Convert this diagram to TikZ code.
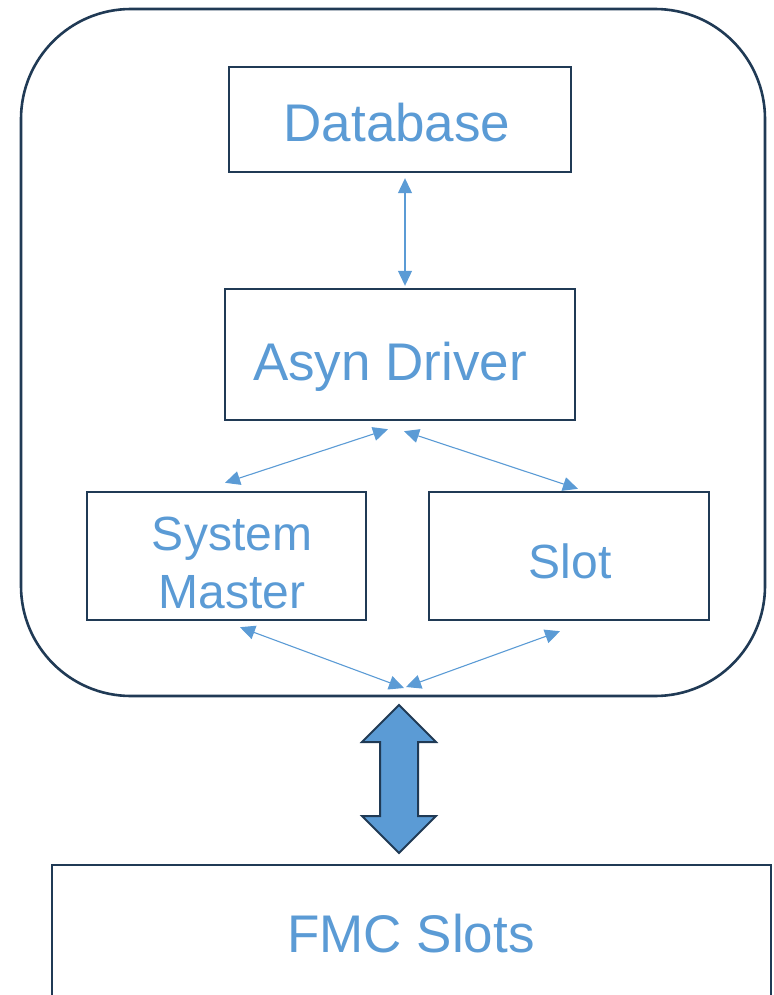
\documentclass[tikz,border=0pt]{standalone}
\usepackage{fontspec}
\setmainfont{Liberation Sans}
\usetikzlibrary{arrows.meta,calc}
\definecolor{frame}{HTML}{203A55}
\definecolor{txt}{HTML}{5B9BD5}
\begin{document}
\begin{tikzpicture}[x=1pt,y=-1pt,
  box/.style={draw=frame,line width=2.4pt,rectangle,inner sep=0pt},
  lbl/.style={text=txt,anchor=base,inner sep=0pt},
  big/.style={font=\fontsize{53}{58}\selectfont},
  small/.style={font=\fontsize{48}{58}\selectfont},
  link/.style={draw=txt,line width=1.1pt,{Triangle[length=15pt,width=14pt]}-{Triangle[length=15pt,width=14pt]}}]
\useasboundingbox (0,0) rectangle (773,995);
% outer rounded frame
\draw[frame,line width=2.6pt,rounded corners=110pt] (21,9) rectangle (765,696);
% boxes
\node[box,minimum width=342pt,minimum height=105pt] (db) at (400,119.5) {};
\node[box,minimum width=350pt,minimum height=131pt] (asyn) at (400,354.5) {};
\node[box,minimum width=279pt,minimum height=128pt] (sm) at (226.5,556) {};
\node[box,minimum width=280pt,minimum height=128pt] (slot) at (569,556) {};
\node[box,minimum width=719pt,minimum height=160pt] (fmc) at (411.5,945) {};
% texts
\node[lbl,big] (tdb) at (397,142) {Database};
\node[lbl,big] (tasyn) at (390,380) {Asyn Driver};
\node[lbl,small] (tsys) at (232,550) {System};
\node[lbl,small] (tmas) at (232,608) {Master};
\node[lbl,small] (tslot) at (570,578) {Slot};
\node[lbl,big] (tfmc) at (411,952) {FMC Slots};
% connectors
\coordinate (hub) at (405,688);
\draw[link] ($(db.south)+(5,5)$) -- ($(asyn.north)+(5,-2)$);
\draw[link] ($(asyn.south)+(-12,8)$) -- ($(sm.north)+(-1.5,-8)$);
\draw[link] ($(asyn.south)+(4,10)$) -- ($(slot.north)+(9,-2)$);
\draw[link] ($(sm.south)+(13.5,6)$) -- ($(hub)+(-1,0)$);
\draw[link] ($(slot.south)+(-9,10)$) -- ($(hub)+(1,-1)$);
% big double arrow
\draw[frame,fill=txt,line width=2pt,line join=miter]
  (399,705) -- (436,742) -- (418,742) -- (418,816) -- (436,816) -- (399,853)
  -- (362,816) -- (380,816) -- (380,742) -- (362,742) -- cycle;
\end{tikzpicture}
\end{document}
